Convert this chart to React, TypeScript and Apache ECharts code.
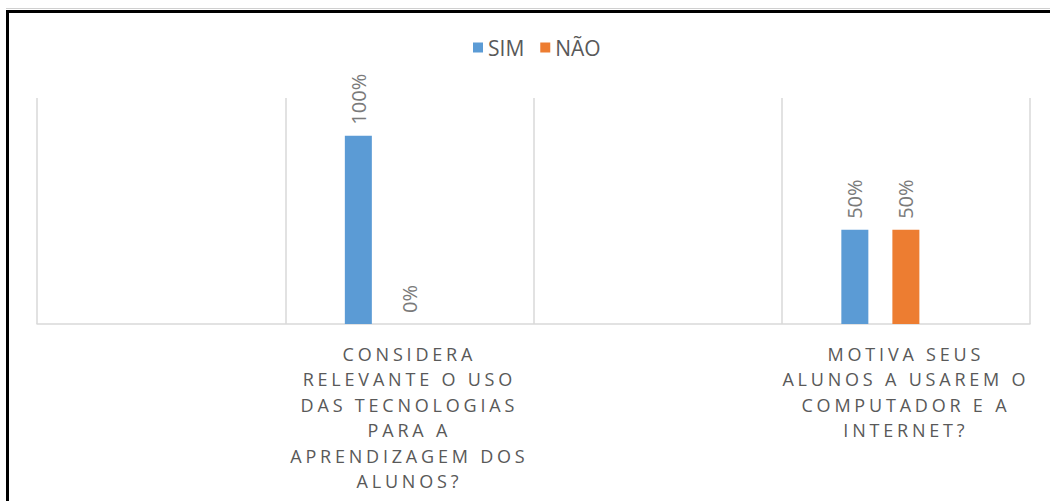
import React, { useEffect, useRef } from "react";
import * as echarts from "echarts";

const categories = [
  "",
  "CONSIDERA\nRELEVANTE O USO\nDAS TECNOLOGIAS\nPARA A\nAPRENDIZAGEM DOS\nALUNOS?",
  "",
  "MOTIVA SEUS\nALUNOS A USAREM O\nCOMPUTADOR E A\nINTERNET?",
];
const simValues: (number | null)[] = [null, 100, null, 50];
const naoValues: (number | null)[] = [null, 0, null, 50];
const spacerValues: (number | null)[] = [null, null, null, null];
const seriesNames = ["SIM", "NÃO"];

const FONT = "'Open Sans', 'Liberation Sans', sans-serif";

export default function App() {
  const ref = useRef<HTMLDivElement>(null);

  useEffect(() => {
    if (!ref.current) return;
    const chart = echarts.init(ref.current, null, { renderer: "svg" });
    const labelStyle = {
      show: true,
      position: "top" as const,
      rotate: 90,
      align: "left" as const,
      verticalAlign: "middle" as const,
      distance: 11,
      formatter: "{c}%",
      color: "#7a7a7a",
      fontFamily: FONT,
      fontSize: 20,
    };
    chart.setOption({
      animation: false,
      backgroundColor: "#ffffff",
      graphic: [
        {
          type: "line",
          shape: { x1: 6, y1: 8.5, x2: 1060, y2: 8.5 },
          style: { stroke: "#d0d0d0", lineWidth: 1 },
          silent: true,
        },
        {
          type: "rect",
          shape: { x: 7.5, y: 11.5, width: 1100, height: 600 },
          style: { fill: "none", stroke: "#000000", lineWidth: 3 },
          silent: true,
        },
      ],
      legend: {
        data: seriesNames,
        left: 468,
        top: 32,
        itemWidth: 10,
        itemHeight: 10,
        itemGap: 16,
        icon: "rect",
        textStyle: { color: "#595959", fontSize: 21, fontFamily: FONT },
      },
      grid: { left: 37, right: 20, top: 98, bottom: 177, containLabel: false },
      xAxis: {
        type: "category",
        data: categories,
        axisLine: { lineStyle: { color: "#d9d9d9", width: 1.5 } },
        axisTick: { show: false },
        splitLine: { show: true, interval: 0, lineStyle: { color: "#d9d9d9", width: 1.5 } },
        axisLabel: {
          interval: 0,
          color: "#595959",
          fontFamily: FONT,
          fontSize: 18,
          lineHeight: 25.5,
          margin: 17,
        },
      },
      yAxis: {
        type: "value",
        min: 0,
        max: 120,
        show: false,
        splitLine: { show: false },
      },
      series: [
        {
          name: seriesNames[0],
          type: "bar",
          data: simValues,
          barWidth: 27,
          barGap: "89%",
          barCategoryGap: "48%",
          itemStyle: { color: "#5b9bd5" },
          label: labelStyle,
        },
        {
          name: seriesNames[1],
          type: "bar",
          data: naoValues,
          barWidth: 27,
          barGap: "89%",
          itemStyle: { color: "#ed7d31" },
          label: labelStyle,
        },
        {
          name: "",
          type: "bar",
          data: spacerValues,
          barWidth: 27,
          barGap: "89%",
          itemStyle: { color: "rgba(0,0,0,0)" },
          label: { show: false },
        },
      ],
    });

    const lines = new Set<string>();
    categories.forEach((c) => c.split("\n").forEach((l) => l && lines.add(l)));
    const track = () => {
      if (!ref.current) return;
      ref.current.querySelectorAll("text").forEach((t) => {
        const s = (t.textContent || "").trim();
        if (lines.has(s) && !seriesNames.includes(s)) {
          t.setAttribute("letter-spacing", "3.8");
          t.setAttribute("dx", "0");
        }
      });
    };
    chart.on("finished", track);
    track();
    const timer = setTimeout(track, 50);

    return () => {
      clearTimeout(timer);
      chart.dispose();
    };
  }, []);

  return (
    <div
      ref={ref}
      style={{ position: "absolute", left: 0, top: 0, width: 1050, height: 501, background: "#fff" }}
    />
  );
}
